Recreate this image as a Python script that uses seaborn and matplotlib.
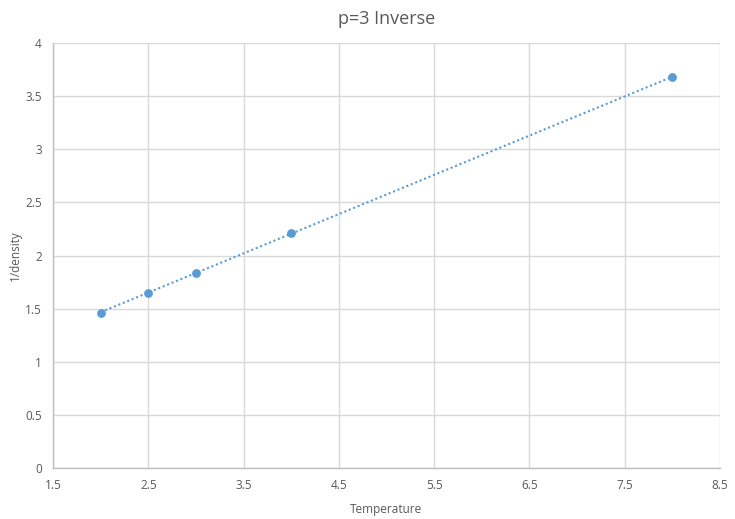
import matplotlib
matplotlib.use("Agg")
import matplotlib.pyplot as plt
import seaborn as sns
import pandas as pd
import numpy as np

temperature = [2.0, 2.5, 3.0, 4.0, 8.0]
inv_density = [1.46, 1.65, 1.84, 2.21, 3.68]
x_ticks = [1.5, 2.5, 3.5, 4.5, 5.5, 6.5, 7.5, 8.5]
y_ticks = [0, 0.5, 1, 1.5, 2, 2.5, 3, 3.5, 4]

df = pd.DataFrame({"Temperature": temperature, "1/density": inv_density})

sns.set_theme(style="white")
plt.rcParams['font.family'] = ['Open Sans', 'DejaVu Sans']

fig = plt.figure(figsize=(7.35, 5.19), dpi=100)
ax = fig.add_axes([0.0721, 0.0983, 0.9075, 0.8188])

color = "#5B9BD5"
sns.regplot(data=df, x="Temperature", y="1/density", ax=ax, scatter=False, ci=None,
            truncate=True, line_kws=dict(color=color, lw=1.5, linestyle=(0, (1, 1.3))))
sns.scatterplot(data=df, x="Temperature", y="1/density", ax=ax, color=color, s=40,
                edgecolor=color, linewidth=0, zorder=3)

ax.set_xlim(1.5, 8.5)
ax.set_ylim(0, 4)
ax.set_xticks(x_ticks)
ax.set_xticklabels([f"{v:g}" for v in x_ticks])
ax.set_yticks(y_ticks)
ax.set_yticklabels([f"{v:g}" for v in y_ticks])
ax.grid(True, color="#D9D9D9", linewidth=1)
ax.set_axisbelow(True)
for s in ["top", "right"]:
    ax.spines[s].set_visible(False)
for s in ["left", "bottom"]:
    ax.spines[s].set_color("#BFBFBF")
    ax.spines[s].set_linewidth(1)
ax.tick_params(axis="both", length=0, labelsize=8.5, colors="#595959", pad=8)
ax.set_xlabel("Temperature", fontsize=8.5, color="#595959", labelpad=8)
ax.set_ylabel("1/density", fontsize=8.5, color="#595959", labelpad=2)
ax.set_title("p=3 Inverse", fontsize=13, color="#595959", pad=14)

fig.savefig("out.png", dpi=100)
